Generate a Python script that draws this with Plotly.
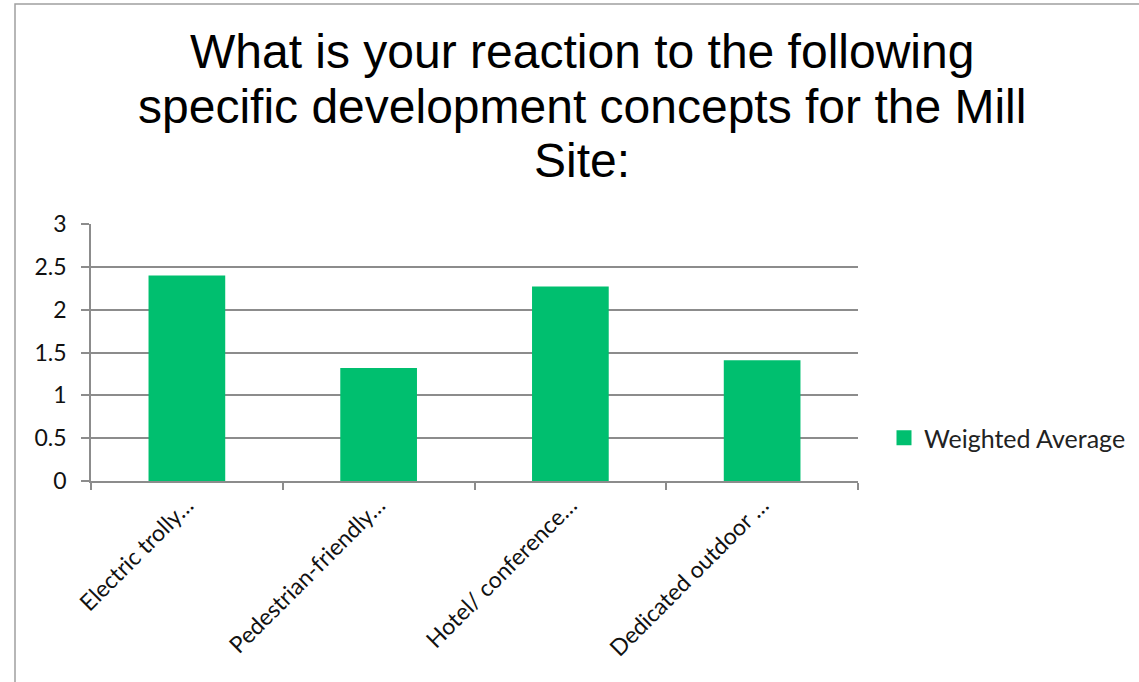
import plotly.graph_objects as go

# Survey results: weighted average reaction per development concept
categories = [
    "Electric trolly…",
    "Pedestrian-friendly…",
    "Hotel/ conference…",
    "Dedicated outdoor …",
]
weighted_average = [2.40, 1.32, 2.27, 1.41]
series_name = "Weighted Average"

title_lines = [
    "What is your reaction to the following",
    "specific development concepts for the Mill",
    "Site:",
]

W, H = 1139, 682
L, R, T, B = 91, 858, 224, 481  # plot area in pixels
pw, ph = R - L, B - T


def px(x):
    return (x - L) / pw


def py(y):
    return (B - y) / ph


grid = "#8c8c8c"
green = "#00BF6F"
label_font = "Lato, Open Sans, sans-serif"

fig = go.Figure()
fig.add_trace(
    go.Bar(
        x=categories,
        y=weighted_average,
        name=series_name,
        marker=dict(color=green, line=dict(width=0)),
        showlegend=False,
        legendgroup="wa",
    )
)
# Legend entry with a larger square swatch
fig.add_trace(
    go.Scatter(
        x=[None], y=[None],
        mode="markers",
        name=series_name,
        legendgroup="wa",
        marker=dict(symbol="square", size=15, color=green),
        showlegend=True,
    )
)

# Title drawn line by line to keep the tight line spacing
title_annotations = [
    dict(
        text=line,
        x=px(582), y=py(52 + 54 * i), xref="paper", yref="paper",
        xanchor="center", yanchor="middle",
        showarrow=False,
        font=dict(family="Liberation Sans, Arial, sans-serif", size=48, color="#000000"),
    )
    for i, line in enumerate(title_lines)
]

fig.update_layout(
    width=W,
    height=H,
    margin=dict(l=L, r=W - R, t=T, b=H - B, autoexpand=False),
    paper_bgcolor="white",
    plot_bgcolor="white",
    bargap=0.6,
    showlegend=True,
    legend=dict(
        x=px(884), y=py(438), xanchor="left", yanchor="middle",
        font=dict(family=label_font, size=25, color="#222222"),
        itemwidth=30,
    ),
    xaxis=dict(
        type="category",
        tickson="boundaries",
        ticks="outside",
        ticklen=7,
        tickcolor=grid,
        tickwidth=1.5,
        showline=True,
        linecolor=grid,
        linewidth=1.5,
        showgrid=False,
        tickangle=-45,
        tickfont=dict(family=label_font, size=23, color="#111111"),
    ),
    yaxis=dict(
        range=[0, 3],
        dtick=0.5,
        tick0=0,
        ticks="outside",
        ticklen=8,
        tickcolor=grid,
        tickwidth=1.5,
        showline=True,
        linecolor=grid,
        linewidth=1.5,
        showgrid=True,
        gridcolor=grid,
        gridwidth=1.5,
        zeroline=False,
        ticklabelstandoff=10,
        tickfont=dict(family=label_font, size=23, color="#111111"),
    ),
    annotations=title_annotations,
    shapes=[
        dict(
            type="rect", xref="paper", yref="paper",
            x0=px(15), x1=px(1150), y0=py(700), y1=py(4),
            line=dict(color="#a0a0a0", width=1.5),
            fillcolor="rgba(0,0,0,0)",
            layer="below",
        )
    ],
)

fig.write_html("out.html")
